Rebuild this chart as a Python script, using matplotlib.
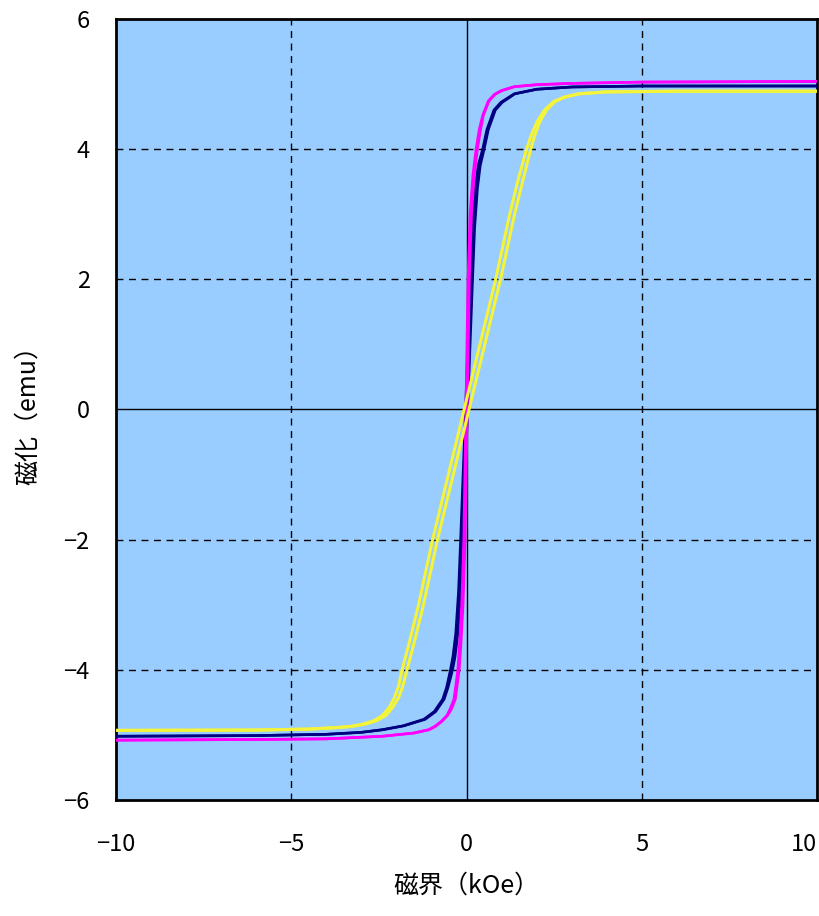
import matplotlib
matplotlib.use("Agg")
import matplotlib.pyplot as plt

plt.rcParams['font.family'] = ['Noto Sans CJK JP', 'DejaVu Sans']

# navy loop: shared magnetisation levels, field on ascending / descending branch
navy_m = [-5.02, -5.01, -4.99, -4.96, -4.92, -4.86, -4.76, -4.64, -4.45, -4.27, -4.0,
          -3.8, -3.45, -2.8, -2.0, 0.0, 2.0, 2.8, 3.4, 3.75, 4.0, 4.3, 4.6, 4.72,
          4.85, 4.92, 4.955, 4.97, 4.97]
navy_h_up = [-10, -6, -4, -3, -2.39, -1.79, -1.18, -0.88, -0.64, -0.53, -0.40,
             -0.33, -0.25, -0.17, -0.11, 0.03, 0.17, 0.23, 0.31, 0.39, 0.50, 0.62, 0.82, 1.02,
             1.38, 2.0, 3.0, 5, 10]
navy_h_dn = [-10, -6, -4, -3, -2.41, -1.81, -1.22, -0.92, -0.68, -0.57, -0.46,
             -0.39, -0.31, -0.23, -0.17, -0.03, 0.11, 0.17, 0.25, 0.33, 0.46, 0.58, 0.78, 0.98,
             1.36, 2.0, 3.0, 5, 10]

# magenta loop
mag_m = [-5.08, -5.07, -5.06, -5.02, -4.97, -4.92, -4.87, -4.79, -4.7, -4.6, -4.45,
         -4.25, -4.0, -3.6, -3.0, -2.0, 0.0, 2.0, 3.0, 3.6, 4.0, 4.3, 4.52, 4.74,
         4.84, 4.9, 4.96, 4.99, 5.01, 5.03, 5.04]
mag_h_up = [-10, -6, -4, -2.4, -1.49, -1.07, -0.89, -0.70, -0.54, -0.43, -0.32,
            -0.27, -0.21, -0.16, -0.10, -0.04, 0.02, 0.08, 0.14, 0.22, 0.31, 0.40, 0.48, 0.64,
            0.81, 1.01, 1.37, 2.0, 3.0, 5, 10]
mag_h_dn = [-10, -6, -4, -2.4, -1.51, -1.09, -0.91, -0.72, -0.56, -0.47, -0.36,
            -0.31, -0.25, -0.20, -0.14, -0.08, -0.02, 0.04, 0.10, 0.18, 0.27, 0.36, 0.46, 0.62,
            0.79, 0.99, 1.37, 2.0, 3.0, 5, 10]

# yellow loop
yel_m = [-4.93, -4.925, -4.91, -4.89, -4.87, -4.83, -4.78, -4.7, -4.57, -4.43, -4.25,
         -4.0, -3.55, -3.0, -2.0, 0.0, 2.0, 3.0, 3.55, 4.0, 4.22, 4.42, 4.6, 4.73,
         4.8, 4.85, 4.88, 4.89, 4.89]
yel_h_up = [-10, -6, -4.5, -3.78, -3.27, -2.86, -2.56, -2.30, -2.10, -1.94, -1.82,
            -1.70, -1.48, -1.23, -0.83, 0.07, 0.97, 1.37, 1.62, 1.83, 1.95, 2.09, 2.28, 2.52,
            2.81, 3.21, 4, 6, 10]
yel_h_dn = [-10, -6, -4.5, -3.82, -3.33, -2.94, -2.64, -2.40, -2.20, -2.06, -1.94,
            -1.84, -1.62, -1.37, -0.97, -0.07, 0.83, 1.23, 1.48, 1.71, 1.85, 2.01, 2.22, 2.48,
            2.79, 3.19, 4, 6, 10]

x_ticks = [-10, -5, 0, 5, 10]
x_labels = ['\u221210', '\u22125', '0', '5', '10']
y_ticks = [-6, -4, -2, 0, 2, 4, 6]
y_labels = ['\u22126', '\u22124', '\u22122', '0', '2', '4', '6']

fig = plt.figure(figsize=(8.2, 9.16), dpi=100)
ax = fig.add_axes([0.1415, 0.1266, 0.855, 0.8527])
ax.set_facecolor('#99ccff')

# grid
for v in [-5, 5]:
    ax.axvline(v, color='black', lw=1.0, ls=(0, (5, 4)), zorder=1)
for v in [-4, -2, 2, 4]:
    ax.axhline(v, color='black', lw=1.0, ls=(0, (5, 4)), zorder=1)
ax.axvline(0, color='black', lw=1.0, zorder=1)
ax.axhline(0, color='black', lw=1.0, zorder=1)

kw = dict(solid_joinstyle='round', solid_capstyle='round')
ax.plot(navy_h_up, navy_m, color='#000080', lw=1.9, zorder=3, **kw)
ax.plot(navy_h_dn, navy_m, color='#000080', lw=1.9, zorder=3, **kw)
ax.plot(mag_h_up, mag_m, color='#ff00ff', lw=1.9, zorder=4, **kw)
ax.plot(mag_h_dn, mag_m, color='#ff00ff', lw=1.9, zorder=4, **kw)
ax.plot(yel_h_up, yel_m, color='#f4f43a', lw=2.2, zorder=5, **kw)
ax.plot(yel_h_dn, yel_m, color='#f4f43a', lw=2.2, zorder=5, **kw)

ax.set_xlim(-10, 10)
ax.set_ylim(-6, 6)
ax.set_xticks(x_ticks)
ax.set_yticks(y_ticks)
ax.set_xticklabels(x_labels)
ax.set_yticklabels(y_labels)
ax.tick_params(length=0, labelsize=17)
ax.tick_params(axis='x', pad=24)
ax.tick_params(axis='y', pad=19)
ax.get_xticklabels()[-1].set_ha('right')
for s in ax.spines.values():
    s.set_linewidth(2)
    s.set_color('black')

ax.set_xlabel('磁界（kOe）', fontsize=18, labelpad=12)
ax.set_ylabel('磁化（emu）', fontsize=18, labelpad=16)

fig.savefig('out.png', dpi=100)
